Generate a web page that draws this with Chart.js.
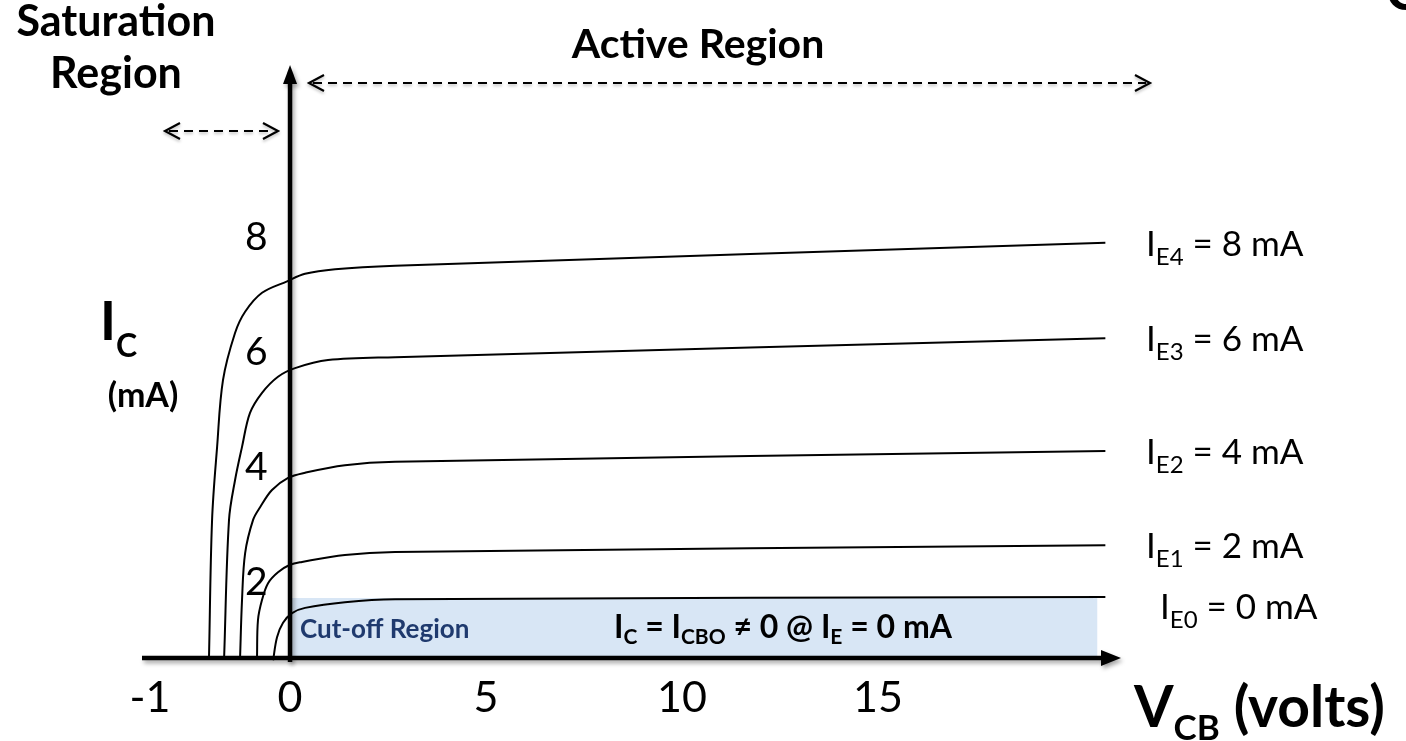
<!DOCTYPE html>
<html>
<head>
<meta charset="utf-8">
<script src="https://cdn.jsdelivr.net/npm/chart.js@4.4.0/dist/chart.umd.min.js"></script>
<style>
  html, body { margin: 0; padding: 0; background: #fff; }
</style>
</head>
<body>
<canvas id="myChart" width="1406" height="741"></canvas>
<script>
// tick labels
const xTicks = [-1, 0, 5, 10, 15];
const yTicks = [2, 4, 6, 8];

// collector characteristic curves, V_CB (volts) vs I_C (mA)
const ie4X = [-0.579, -0.557, -0.521, -0.479, -0.393, -0.321, -0.200, -0.021, 0.383, 1.15, 2.68, 20.8];
const ie4Y = [0.678, 3.08, 4.35, 5.51, 6.33, 6.70, 7.03, 7.23, 7.36, 7.44, 7.50, 7.90];
const ie3X = [-0.471, -0.436, -0.393, -0.343, -0.286, -0.200, -0.086, 0.128, 0.97, 2.68, 20.8];
const ie3Y = [0.678, 3.08, 3.77, 4.35, 4.94, 5.29, 5.57, 5.72, 5.86, 5.91, 6.24];
const ie2X = [-0.357, -0.343, -0.321, -0.264, -0.214, -0.129, -0.014, 0.383, 1.40, 2.68, 20.8];
const ie2Y = [0.678, 1.69, 2.50, 3.08, 3.30, 3.60, 3.81, 3.90, 4.03, 4.09, 4.28];
const ie1X = [-0.236, -0.229, -0.200, -0.157, -0.086, 0, 0.306, 1.40, 2.68, 20.8];
const ie1Y = [0.678, 1.34, 1.69, 1.98, 2.17, 2.30, 2.35, 2.47, 2.52, 2.64];
const ie0X = [-0.121, -0.093, -0.050, 0.051, 0.383, 1.40, 2.68, 20.8];
const ie0Y = [0.64, 1.04, 1.29, 1.46, 1.55, 1.65, 1.70, 1.74];

// shaded cut-off band
const cutoffX = [0, 20.6];
const cutoffY = [1.72, 1.72];

const curveSubs = ["E4", "E3", "E2", "E1", "E0"];
const curveMA = [8, 6, 4, 2, 0];

const AXIS_LEVEL = 0.678; // where the V_CB axis crosses
const Y_LABEL_AT = -0.16;  // y tick labels sit a little left of the I_C axis
const NEG = 3.571;         // negative V_CB side is drawn stretched

class SplitScale extends Chart.LinearScale {
    getPixelForValue(v) {
        return super.getPixelForValue(v < 0 ? v * NEG : v);
    }
    getValueForPixel(p) {
        const v = super.getValueForPixel(p);
        return v < 0 ? v / NEG : v;
    }
}
SplitScale.id = "split";
SplitScale.defaults = Chart.LinearScale.defaults;
Chart.register(SplitScale);

const FONT = "Lato";

function pts(xs, ys) {
    return xs.map((x, i) => ({ x: x, y: ys[i] }));
}

// draws text with subscripts; parts = [text, size, weight, dy]
function rich(ctx, parts, x, y, align) {
    let w = 0;
    parts.forEach((p) => {
        ctx.font = `${p[2]} ${p[1]}px ${FONT}`;
        w += ctx.measureText(p[0]).width;
    });
    let cx = align === "center" ? x - w / 2 : x;
    ctx.textAlign = "left";
    ctx.textBaseline = "alphabetic";
    parts.forEach((p) => {
        ctx.font = `${p[2]} ${p[1]}px ${FONT}`;
        ctx.fillText(p[0], cx, y + (p[3] || 0));
        cx += ctx.measureText(p[0]).width;
    });
}

function dashedArrow(ctx, x1, x2, y) {
    ctx.save();
    ctx.strokeStyle = "#000";
    ctx.lineWidth = 2.2;
    ctx.shadowColor = "rgba(0,0,0,0.25)";
    ctx.shadowBlur = 3;
    ctx.shadowOffsetY = 2;
    ctx.setLineDash([9, 6]);
    ctx.beginPath();
    ctx.moveTo(x1 + 4, y);
    ctx.lineTo(x2 - 4, y);
    ctx.stroke();
    ctx.setLineDash([]);
    ctx.beginPath();
    ctx.moveTo(x1 + 15, y - 8);
    ctx.lineTo(x1, y);
    ctx.lineTo(x1 + 15, y + 8);
    ctx.moveTo(x2 - 15, y - 8);
    ctx.lineTo(x2, y);
    ctx.lineTo(x2 - 15, y + 8);
    ctx.stroke();
    ctx.restore();
}

const overlay = {
    id: "overlay",
    afterDraw(chart) {
        const { ctx } = chart;
        const xs = chart.scales.x, ys = chart.scales.y;
        const x0 = xs.getPixelForValue(0);
        const y0 = ys.getPixelForValue(AXIS_LEVEL);

        // axes with soft shadow
        ctx.save();
        ctx.shadowColor = "rgba(0,0,0,0.35)";
        ctx.shadowBlur = 4;
        ctx.shadowOffsetX = 2;
        ctx.shadowOffsetY = 3;
        ctx.strokeStyle = "#000";
        ctx.fillStyle = "#000";
        ctx.lineWidth = 4.5;
        ctx.beginPath();
        ctx.moveTo(142, y0);
        ctx.lineTo(1106, y0);
        ctx.stroke();
        ctx.beginPath();
        ctx.moveTo(1121, y0);
        ctx.lineTo(1101, y0 - 8);
        ctx.lineTo(1101, y0 + 8);
        ctx.closePath();
        ctx.fill();
        ctx.beginPath();
        ctx.moveTo(x0, y0 + 4);
        ctx.lineTo(x0, 82);
        ctx.stroke();
        ctx.beginPath();
        ctx.moveTo(x0, 65);
        ctx.lineTo(x0 - 7, 84);
        ctx.lineTo(x0 + 7, 84);
        ctx.closePath();
        ctx.fill();
        ctx.restore();

        dashedArrow(ctx, 309, 1150, 83);
        dashedArrow(ctx, 165, 278, 131);

        ctx.save();
        ctx.fillStyle = "#000";
        rich(ctx, [["Saturation", 43, "bold"]], 116, 36, "center");
        rich(ctx, [["Region", 43, "bold"]], 116, 88, "center");
        rich(ctx, [["Active Region", 41, "bold"]], 698, 58, "center");
        rich(ctx, [["C", 52, "bold"]], 1386, 10, "left");

        rich(ctx, [["I", 54, "bold"], ["C", 32, "bold", 17]], 100, 340, "left");
        rich(ctx, [["(mA)", 34, "bold"]], 143, 407, "center");

        rich(ctx, [["V", 57, "bold"], ["CB", 35, "bold", 13], [" (volts)", 57, "bold"]], 1134, 727, "left");

        // curve labels at the end of each curve
        const sets = chart.data.datasets.filter((d) => d.sub);
        sets.forEach((d) => {
            const last = d.data[d.data.length - 1];
            const ly = ys.getPixelForValue(last.y);
            const isZero = d.sub === "E0";
            rich(ctx, [["I", 35, "normal"], [d.sub, 24, "normal", 9], [` = ${d.mA} mA`, 35, "normal"]],
                isZero ? 1160 : 1146, ly + (isZero ? 22 : 13), "left");
        });

        // cut-off band texts
        ctx.fillStyle = "#1f3a6e";
        rich(ctx, [["Cut-off Region", 26, "bold"]], 300, 638, "left");
        ctx.fillStyle = "#000";
        rich(ctx, [["I", 32, "bold"], ["C", 21, "bold", 6], [" = I", 32, "bold"], ["CBO", 21, "bold", 6],
            [" \u2260 0 @ I", 32, "bold"], ["E", 21, "bold", 6], [" = 0 mA", 32, "bold"]], 614, 638, "left");
        ctx.restore();
    },
};

const curveX = [ie4X, ie3X, ie2X, ie1X, ie0X];
const curveY = [ie4Y, ie3Y, ie2Y, ie1Y, ie0Y];

const datasets = curveX.map((xs, i) => ({
    data: pts(xs, curveY[i]),
    sub: curveSubs[i],
    mA: curveMA[i],
    borderColor: "#000",
    borderWidth: 2,
    pointRadius: 0,
    tension: 0.35,
    fill: false,
    order: 0,
}));

datasets.push({
    data: pts(cutoffX, cutoffY),
    borderWidth: 0,
    pointRadius: 0,
    backgroundColor: "#d8e6f5",
    fill: { value: AXIS_LEVEL },
    order: 10,
});

const ctx = document.getElementById("myChart").getContext("2d");
window.myChart = new Chart(ctx, {
    type: "line",
    data: { datasets: datasets },
    options: {
        responsive: false,
        animation: false,
        events: [],
        layout: { padding: { left: 18, right: 283, top: 59, bottom: 74 } },
        plugins: { legend: { display: false }, tooltip: { enabled: false } },
        scales: {
            x: {
                type: "split",
                position: { y: AXIS_LEVEL },
                min: -6.94,
                max: 21.25,
                afterBuildTicks: (axis) => {
                    axis.ticks = xTicks.map((v) => ({ value: v }));
                },
                grid: { display: false, drawTicks: false },
                border: { display: false },
                ticks: {
                    autoSkip: false,
                    maxRotation: 0,
                    padding: 14,
                    color: "#000",
                    font: { family: FONT, size: 43 },
                    callback: (v) => String(v),
                },
            },
            y: {
                type: "linear",
                position: { x: Y_LABEL_AT },
                min: 0.522,
                max: 11.096,
                afterBuildTicks: (axis) => {
                    axis.ticks = yTicks.map((v) => ({ value: v }));
                },
                grid: { display: false, drawTicks: false },
                border: { display: false },
                ticks: {
                    color: "#000",
                    font: { family: FONT, size: 39 },
                    callback: (v) => String(v),
                },
            },
        },
    },
    plugins: [overlay],
});
</script>
</body>
</html>
